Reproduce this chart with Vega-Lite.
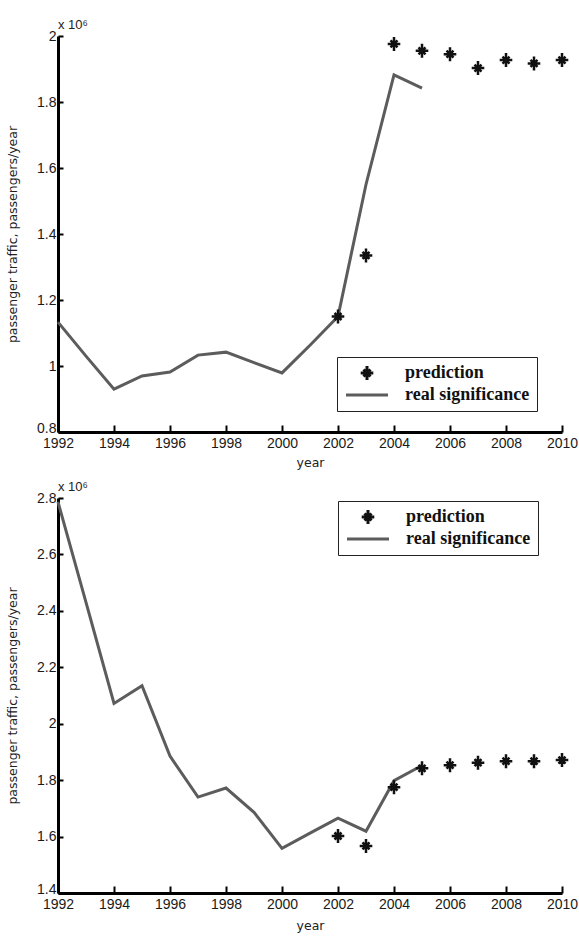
{
  "$schema": "https://vega.github.io/schema/vega-lite/v6.json",
  "padding": {"left": 6, "top": 19, "right": 10, "bottom": 10},
  "background": "white",
  "datasets": {
    "topReal": [
      {"year": 1992, "value": 1.133, "series": "real significance"},
      {"year": 1993, "value": 1.03, "series": "real significance"},
      {"year": 1994, "value": 0.93, "series": "real significance"},
      {"year": 1995, "value": 0.97, "series": "real significance"},
      {"year": 1996, "value": 0.982, "series": "real significance"},
      {"year": 1997, "value": 1.033, "series": "real significance"},
      {"year": 1998, "value": 1.042, "series": "real significance"},
      {"year": 1999, "value": 1.01, "series": "real significance"},
      {"year": 2000, "value": 0.979, "series": "real significance"},
      {"year": 2001, "value": 1.063, "series": "real significance"},
      {"year": 2002, "value": 1.15, "series": "real significance"},
      {"year": 2003, "value": 1.55, "series": "real significance"},
      {"year": 2004, "value": 1.882, "series": "real significance"},
      {"year": 2005, "value": 1.842, "series": "real significance"}
    ],
    "topPred": [
      {"year": 2002, "value": 1.15, "series": "prediction"},
      {"year": 2003, "value": 1.335, "series": "prediction"},
      {"year": 2004, "value": 1.976, "series": "prediction"},
      {"year": 2005, "value": 1.955, "series": "prediction"},
      {"year": 2006, "value": 1.945, "series": "prediction"},
      {"year": 2007, "value": 1.903, "series": "prediction"},
      {"year": 2008, "value": 1.927, "series": "prediction"},
      {"year": 2009, "value": 1.917, "series": "prediction"},
      {"year": 2010, "value": 1.927, "series": "prediction"}
    ],
    "botReal": [
      {"year": 1992, "value": 2.786, "series": "real significance"},
      {"year": 1993, "value": 2.43, "series": "real significance"},
      {"year": 1994, "value": 2.072, "series": "real significance"},
      {"year": 1995, "value": 2.135, "series": "real significance"},
      {"year": 1996, "value": 1.885, "series": "real significance"},
      {"year": 1997, "value": 1.74, "series": "real significance"},
      {"year": 1998, "value": 1.772, "series": "real significance"},
      {"year": 1999, "value": 1.686, "series": "real significance"},
      {"year": 2000, "value": 1.558, "series": "real significance"},
      {"year": 2001, "value": 1.612, "series": "real significance"},
      {"year": 2002, "value": 1.665, "series": "real significance"},
      {"year": 2003, "value": 1.619, "series": "real significance"},
      {"year": 2004, "value": 1.798, "series": "real significance"},
      {"year": 2005, "value": 1.852, "series": "real significance"}
    ],
    "botPred": [
      {"year": 2002, "value": 1.602, "series": "prediction"},
      {"year": 2003, "value": 1.567, "series": "prediction"},
      {"year": 2004, "value": 1.775, "series": "prediction"},
      {"year": 2005, "value": 1.842, "series": "prediction"},
      {"year": 2006, "value": 1.853, "series": "prediction"},
      {"year": 2007, "value": 1.862, "series": "prediction"},
      {"year": 2008, "value": 1.867, "series": "prediction"},
      {"year": 2009, "value": 1.867, "series": "prediction"},
      {"year": 2010, "value": 1.871, "series": "prediction"}
    ]
  },
  "config": {
    "view": {"stroke": null},
    "axis": {
      "domainColor": "#000000", "domainWidth": 3, "tickColor": "#000000", "tickWidth": 2,
      "grid": false, "labelFont": "Liberation Sans", "labelFontSize": 14, "labelColor": "#1a1a1a",
      "labelFlush": false, "labelOverlap": false,
      "titleFont": "DejaVu Sans", "titleFontSize": 12.5, "titleFontWeight": "normal", "titleColor": "#222222"
    },
    "legend": {
      "title": null, "orient": "none", "strokeColor": "#222222", "padding": 7,
      "labelFont": "Liberation Serif", "labelFontWeight": "bold", "labelFontSize": 18, "labelColor": "#111111",
      "labelOffset": 29, "symbolOffset": 14, "symbolSize": 196, "symbolStrokeWidth": 3, "rowPadding": 0, "fillColor": "#ffffff"
    },
    "title": {"font": "Liberation Sans", "fontSize": 13, "fontWeight": "normal", "color": "#222222", "anchor": "start", "frame": "group", "offset": -3, "baseline": "alphabetic"}
  },
  "spacing": 66,
  "bounds": "flush",
  "resolve": {"scale": {"color": "independent", "shape": "independent"}, "legend": {"color": "independent", "shape": "independent"}},
  "vconcat": [
    {
      "width": 504, "height": 396,
      "title": {"text": "x 10⁶"},
      "encoding": {
        "x": {"field": "year", "type": "quantitative", "scale": {"domain": [1992, 2010], "nice": false, "zero": false},
              "axis": {"values": [1992, 1994, 1996, 1998, 2000, 2002, 2004, 2006, 2008, 2010], "format": "d", "title": "year", "tickSize": -7, "labelPadding": 11, "titlePadding": 6}},
        "y": {"field": "value", "type": "quantitative", "scale": {"domain": [0.8, 2], "nice": false, "zero": false},
              "axis": {"values": [0.8, 1, 1.2, 1.4, 1.6, 1.8, 2], "format": "~g", "title": "passenger traffic, passengers/year", "tickSize": -5, "labelPadding": 7, "titlePadding": 17,
                       "labelBaseline": {"condition": {"test": "datum.value == 0.8", "value": "alphabetic"}, "value": "middle"}}},
        "color": {"field": "series", "type": "nominal",
                  "scale": {"domain": ["prediction", "real significance"], "range": ["#111111", "#5c5c5c"]},
                  "legend": {"legendX": 279, "legendY": 321}}
      },
      "layer": [
        {"data": {"name": "topReal"}, "mark": {"type": "line", "strokeWidth": 3}},
        {"data": {"name": "topPred"},
         "mark": {"type": "point", "filled": false, "size": 196, "strokeWidth": 2.5, "opacity": 1},
         "encoding": {"shape": {"field": "series", "type": "nominal",
           "scale": {"domain": ["prediction", "real significance"], "range": ["M0,-1L0,1M-0.9,0L0.9,0M-0.5,-0.5L0.5,0.5M-0.5,0.5L0.5,-0.5", "M-3,0L3,0"]},
           "legend": {"legendX": 279, "legendY": 321}}}}
      ]
    },
    {
      "width": 504, "height": 395,
      "title": {"text": "x 10⁶"},
      "encoding": {
        "x": {"field": "year", "type": "quantitative", "scale": {"domain": [1992, 2010], "nice": false, "zero": false},
              "axis": {"values": [1992, 1994, 1996, 1998, 2000, 2002, 2004, 2006, 2008, 2010], "format": "d", "title": "year", "tickSize": -7, "labelPadding": 11, "titlePadding": 8}},
        "y": {"field": "value", "type": "quantitative", "scale": {"domain": [1.4, 2.8], "nice": false, "zero": false},
              "axis": {"values": [1.4, 1.6, 1.8, 2, 2.2, 2.4, 2.6, 2.8], "format": "~g", "title": "passenger traffic, passengers/year", "tickSize": -5, "labelPadding": 7, "titlePadding": 17,
                       "labelBaseline": {"condition": {"test": "datum.value == 1.4", "value": "alphabetic"}, "value": "middle"}}},
        "color": {"field": "series", "type": "nominal",
                  "scale": {"domain": ["prediction", "real significance"], "range": ["#111111", "#5c5c5c"]},
                  "legend": {"legendX": 280, "legendY": 3}}
      },
      "layer": [
        {"data": {"name": "botReal"}, "mark": {"type": "line", "strokeWidth": 3}},
        {"data": {"name": "botPred"},
         "mark": {"type": "point", "filled": false, "size": 196, "strokeWidth": 2.5, "opacity": 1},
         "encoding": {"shape": {"field": "series", "type": "nominal",
           "scale": {"domain": ["prediction", "real significance"], "range": ["M0,-1L0,1M-0.9,0L0.9,0M-0.5,-0.5L0.5,0.5M-0.5,0.5L0.5,-0.5", "M-3,0L3,0"]},
           "legend": {"legendX": 280, "legendY": 3}}}}
      ]
    }
  ]
}
